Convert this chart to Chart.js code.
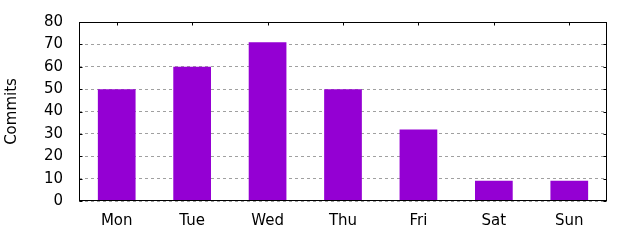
<!DOCTYPE html>
<html>
<head>
<meta charset="utf-8">
<script src="https://cdn.jsdelivr.net/npm/chart.js@4"></script>
<style>
  html, body { margin: 0; padding: 0; background: #fff; }
  #wrap { width: 640px; height: 240px; }
</style>
</head>
<body>
<div id="wrap"><canvas id="c" width="640" height="240"></canvas></div>
<script>
const categories = ['Mon', 'Tue', 'Wed', 'Thu', 'Fri', 'Sat', 'Sun'];
const commits = [50, 60, 71, 50, 32, 9, 9];
const yTicks = [0, 10, 20, 30, 40, 50, 60, 70, 80];

const frame = {
  id: 'frame',
  afterDatasetsDraw(chart) {
    const { ctx, chartArea: a, scales } = chart;
    const L = Math.round(a.left) + 0.5, R = Math.round(a.right) - 0.5;
    const T = Math.round(a.top) + 0.5, B = Math.round(a.bottom) - 0.5;
    ctx.save();
    ctx.strokeStyle = '#000';
    ctx.lineWidth = 1;
    ctx.beginPath();
    const tl = 3;
    scales.x.ticks.forEach((t, i) => {
      const x = Math.round(scales.x.getPixelForTick(i)) + 0.5;
      ctx.moveTo(x, T); ctx.lineTo(x, T + tl);
    });
    scales.y.ticks.forEach((t, i) => {
      const y = Math.round(scales.y.getPixelForTick(i)) + 0.5;
      ctx.moveTo(L, y); ctx.lineTo(L + tl, y);
      ctx.moveTo(R, y); ctx.lineTo(R - tl, y);
    });
    ctx.stroke();
    ctx.strokeRect(L, T, R - L, B - T);
    ctx.restore();
  }
};

new Chart(document.getElementById('c'), {
  type: 'bar',
  data: {
    labels: categories,
    datasets: [{
      label: 'Commits',
      data: commits,
      backgroundColor: '#9400d3',
      borderWidth: 0,
      barPercentage: 0.5,
      categoryPercentage: 1.0
    }]
  },
  options: {
    responsive: false,
    animation: false,
    events: [],
    layout: { padding: { left: 0, right: 33, top: 22, bottom: 0 } },
    plugins: { legend: { display: false }, tooltip: { enabled: false } },
    scales: {
      x: {
        grid: { display: false },
        border: { display: false },
        ticks: { color: '#000', font: { family: 'DejaVu Sans', size: 15 }, padding: 3, maxRotation: 0 },
        afterFit(s) { s.height = 39; s.paddingLeft = 0; s.paddingRight = 0; }
      },
      y: {
        min: 0, max: 80,
        afterBuildTicks(s) { s.ticks = yTicks.map(v => ({ value: v })); },
        grid: { color: '#a0a0a0', lineWidth: 1, drawTicks: false },
        border: { display: false, dash: [3, 3] },
        ticks: { color: '#000', font: { family: 'DejaVu Sans', size: 15 }, padding: 16 },
        title: { display: true, text: 'Commits', color: '#000', font: { family: 'DejaVu Sans', size: 15 }, padding: { top: 3, bottom: 0 } },
        afterFit(s) { s.width = 79; s.paddingTop = 0; s.paddingBottom = 0; }
      }
    }
  },
  plugins: [frame]
});
</script>
</body>
</html>
